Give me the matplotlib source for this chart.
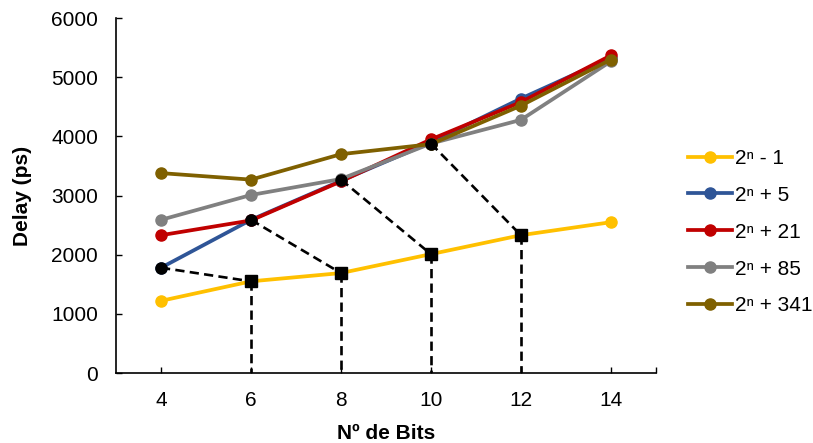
import matplotlib.pyplot as plt

plt.rcParams['font.family'] = ['Liberation Sans', 'DejaVu Sans']

bits = [4, 6, 8, 10, 12, 14]
series_names = ['2ⁿ - 1', '2ⁿ + 5', '2ⁿ + 21', '2ⁿ + 85', '2ⁿ + 341']
delay_m1 = [1220, 1550, 1690, 2010, 2330, 2550]
delay_p5 = [1780, 2590, 3250, 3900, 4640, 5330]
delay_p21 = [2330, 2580, 3240, 3950, 4580, 5370]
delay_p85 = [2590, 3010, 3280, 3880, 4280, 5270]
delay_p341 = [3380, 3270, 3700, 3870, 4520, 5300]
colors = ['#FFC000', '#2F5597', '#C00000', '#808080', '#7F6000']

# best points (circles) and the 2^n-1 point they lead to (squares)
best_bits = [4, 6, 8, 10]
best_delay = [1780, 2590, 3270, 3880]
target_bits = [6, 8, 10, 12]
target_delay = [1550, 1690, 2010, 2330]

fig = plt.figure(figsize=(8.13, 4.43), dpi=100)
ax = fig.add_axes([0.1427, 0.158, 0.664, 0.801])

all_series = [delay_m1, delay_p5, delay_p21, delay_p85, delay_p341]
for name, vals, col in zip(series_names, all_series, colors):
    ax.plot(bits, vals, color=col, lw=2.7, marker='o', ms=8, label=name, zorder=2)

# dashed guide lines
for bx, by, tx, ty in zip(best_bits, best_delay, target_bits, target_delay):
    ax.plot([bx, tx], [by, ty], color='black', ls=(0, (3.5, 2)), lw=1.9, zorder=3)
    ax.plot([tx, tx], [ty, 0], color='black', ls=(0, (3.5, 2)), lw=1.9, zorder=3)
ax.plot(best_bits, best_delay, ls='none', marker='o', ms=8, color='black', zorder=4)
ax.plot(target_bits, target_delay, ls='none', marker='s', ms=8, color='black', zorder=4)

ax.set_xlim(3, 15)
ax.set_ylim(0, 6000)
ax.set_xticks([4, 6, 8, 10, 12, 14, 15])
ax.set_xticklabels(['4', '6', '8', '10', '12', '14', ''])
ax.set_yticks(range(0, 6001, 1000))
ax.tick_params(direction='in', length=4, width=1, labelsize=15, pad=13)
for s in ['top', 'right']:
    ax.spines[s].set_visible(False)
for s in ['left', 'bottom']:
    ax.spines[s].set_linewidth(1.2)

ax.set_xlabel('Nº de Bits', fontsize=15, fontweight='bold', labelpad=10)
ax.set_ylabel('Delay (ps)', fontsize=15, fontweight='bold', labelpad=14)

ax.legend(loc='center left', bbox_to_anchor=(0.846, 0.476), bbox_transform=fig.transFigure,
          frameon=False, fontsize=15, handlelength=2.1, handletextpad=0.15,
          labelspacing=0.86, borderaxespad=0, borderpad=0)

fig.savefig('out.png', dpi=100)
